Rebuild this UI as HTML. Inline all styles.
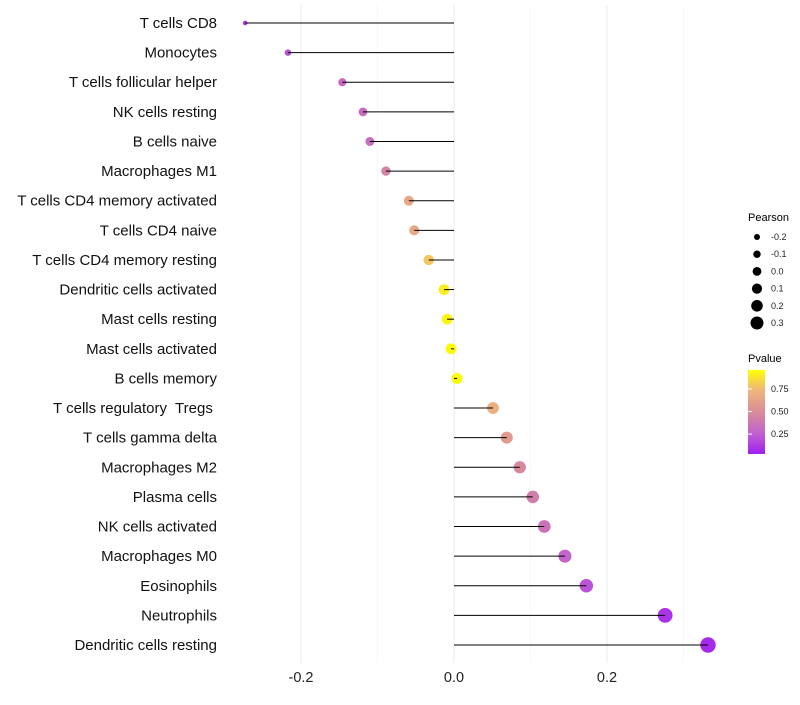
<!DOCTYPE html>
<html><head><meta charset="utf-8"><style>
body{margin:0;background:#fff;font-family:"Liberation Sans",sans-serif}
</style></head><body>
<svg id="c" width="800" height="700" xmlns="http://www.w3.org/2000/svg" font-family="Liberation Sans, sans-serif">
<defs><linearGradient id="pg" x1="0" y1="1" x2="0" y2="0">
<stop offset="0" stop-color="#a020f0"/><stop offset="0.24" stop-color="#c060d0"/><stop offset="0.5" stop-color="#da8c98"/><stop offset="0.77" stop-color="#f0b878"/><stop offset="1" stop-color="#ffff00"/></linearGradient></defs>
<g id="grid"></g><g id="marks"></g><g id="labels"></g>
<g>
<text x="748" y="221" font-size="11" fill="#000">Pearson</text>
<g id="sleg"></g></g>
<g>
<text x="748" y="362" font-size="11" fill="#000">Pvalue</text>
<rect x="748" y="370" width="17" height="84" fill="url(#pg)"/>
<g id="cleg"></g></g>
</svg>
<script>
const categories=["T cells CD8","Monocytes","T cells follicular helper","NK cells resting","B cells naive","Macrophages M1","T cells CD4 memory activated","T cells CD4 naive","T cells CD4 memory resting","Dendritic cells activated","Mast cells resting","Mast cells activated","B cells memory","T cells regulatory  Tregs ","T cells gamma delta","Macrophages M2","Plasma cells","NK cells activated","Macrophages M0","Eosinophils","Neutrophils","Dendritic cells resting"];
const pearson=[-0.273,-0.217,-0.146,-0.119,-0.110,-0.089,-0.059,-0.052,-0.033,-0.013,-0.009,-0.004,0.004,0.051,0.069,0.086,0.103,0.118,0.145,0.173,0.276,0.332];
const pvalues=[0.10,0.18,0.30,0.32,0.33,0.45,0.65,0.66,0.80,0.94,0.96,0.98,0.99,0.70,0.58,0.48,0.42,0.35,0.28,0.20,0.08,0.04];
const xTicks=[-0.2,0,0.2];
const xTickLabels=["-0.2","0.0","0.2"];
const sizeLegend=[-0.2,-0.1,0.0,0.1,0.2,0.3];
const colorTicks=[0.25,0.5,0.75];
const NS="http://www.w3.org/2000/svg";
const xS=v=>454+v*765;
const yS=i=>23+i*(622/21);
const rS=v=>Math.sqrt(Math.max(1,30+90*v));
function mix(a,b,t){return a.map((x,i)=>Math.round(x+(b[i]-x)*t));}
const stops=[[0,[160,32,240]],[0.25,[192,96,208]],[0.5,[218,140,152]],[0.75,[240,184,120]],[1,[255,255,0]]];
function col(p){for(let i=1;i<stops.length;i++){if(p<=stops[i][0]){const t=(p-stops[i-1][0])/(stops[i][0]-stops[i-1][0]);return `rgb(${mix(stops[i-1][1],stops[i][1],t)})`;}}return 'rgb(255,255,0)';}
function el(t,a,parent){const e=document.createElementNS(NS,t);for(const k in a)e.setAttribute(k,a[k]);parent.appendChild(e);return e;}
const grid=document.getElementById('grid'),marks=document.getElementById('marks'),labels=document.getElementById('labels');
[-0.1,0.1,0.3].forEach(v=>{const l=el('line',{x1:xS(v),x2:xS(v),y1:5,y2:663,stroke:'#f4f4f4','stroke-width':0.6},grid);

});
xTicks.forEach((v,i)=>{const l=el('line',{x1:xS(v),x2:xS(v),y1:5,y2:663,stroke:'#ebebeb','stroke-width':1},grid);


const t=el('text',{x:xS(v),y:682,'font-size':14.5,'text-anchor':'middle',fill:'#222'},labels);t.textContent=xTickLabels[i];

});
categories.forEach((c,i)=>{const y=yS(i);
const t=el('text',{x:217,y:y+5,'font-size':15,'text-anchor':'end',fill:'#111','xml:space':'preserve',style:'white-space:pre'},labels);t.textContent=c;


const d=el('circle',{cx:xS(pearson[i]),cy:y,r:rS(pearson[i]),fill:col(pvalues[i])},marks);


const l=el('line',{x1:xS(0),x2:xS(pearson[i]),y1:y,y2:y,stroke:'#000','stroke-width':1},marks);

});
const sleg=document.getElementById('sleg');
sizeLegend.forEach((v,i)=>{const y=237+i*17.2;
const c=el('circle',{cx:757,cy:y,r:3+(v+0.2)*7,fill:'#000'},sleg);


const t=el('text',{x:771,y:y+3,'font-size':9,fill:'#222'},sleg);t.textContent=v.toFixed(1);

});
const cleg=document.getElementById('cleg');
colorTicks.forEach(v=>{const y=454-(v-0.03)/0.93*84;
const t=el('text',{x:771,y:y+3,'font-size':9,fill:'#222'},cleg);t.textContent=v.toFixed(2);


const k=el('line',{x1:748,x2:752,y1:y,y2:y,stroke:'#fff','stroke-width':1},cleg);

});
</script>
</body></html>
